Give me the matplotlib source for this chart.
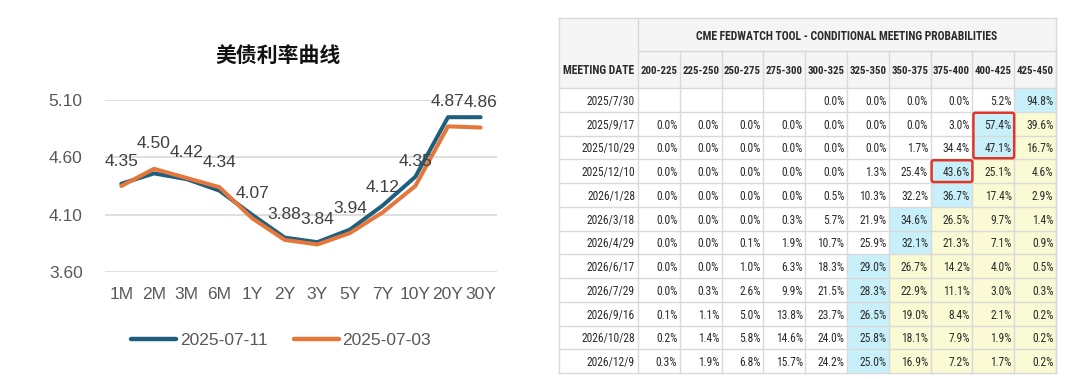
import matplotlib
matplotlib.use('Agg')
import matplotlib.pyplot as plt
from matplotlib import font_manager
from matplotlib.patches import Rectangle, FancyBboxPatch

plt.rcParams['font.family'] = ['Liberation Sans', 'DejaVu Sans']

# 美债利率曲线
tenors = ['1M', '2M', '3M', '6M', '1Y', '2Y', '3Y', '5Y', '7Y', '10Y', '20Y', '30Y']
y_0711 = [4.37, 4.46, 4.41, 4.31, 4.10, 3.90, 3.86, 3.97, 4.18, 4.43, 4.95, 4.95]
y_0703 = [4.35, 4.50, 4.42, 4.34, 4.07, 3.88, 3.84, 3.94, 4.12, 4.35, 4.87, 4.86]
yticks = [3.60, 4.10, 4.60, 5.10]

# CME FedWatch table
buckets = ['200-225', '225-250', '250-275', '275-300', '300-325',
           '325-350', '350-375', '375-400', '400-425', '425-450']
dates = ['2025/7/30', '2025/9/17', '2025/10/29', '2025/12/10', '2026/1/28', '2026/3/18',
         '2026/4/29', '2026/6/17', '2026/7/29', '2026/9/16', '2026/10/28', '2026/12/9']
probs = [
    [None, None, None, None, 0.0, 0.0, 0.0, 0.0, 5.2, 94.8],
    [0.0, 0.0, 0.0, 0.0, 0.0, 0.0, 0.0, 3.0, 57.4, 39.6],
    [0.0, 0.0, 0.0, 0.0, 0.0, 0.0, 1.7, 34.4, 47.1, 16.7],
    [0.0, 0.0, 0.0, 0.0, 0.0, 1.3, 25.4, 43.6, 25.1, 4.6],
    [0.0, 0.0, 0.0, 0.0, 0.5, 10.3, 32.2, 36.7, 17.4, 2.9],
    [0.0, 0.0, 0.0, 0.3, 5.7, 21.9, 34.6, 26.5, 9.7, 1.4],
    [0.0, 0.0, 0.1, 1.9, 10.7, 25.9, 32.1, 21.3, 7.1, 0.9],
    [0.0, 0.0, 1.0, 6.3, 18.3, 29.0, 26.7, 14.2, 4.0, 0.5],
    [0.0, 0.3, 2.6, 9.9, 21.5, 28.3, 22.9, 11.1, 3.0, 0.3],
    [0.1, 1.1, 5.0, 13.8, 23.7, 26.5, 19.0, 8.4, 2.1, 0.2],
    [0.2, 1.4, 5.8, 14.6, 24.0, 25.8, 18.1, 7.9, 1.9, 0.2],
    [0.3, 1.9, 6.8, 15.7, 24.2, 25.0, 16.9, 7.2, 1.7, 0.2],
]
# (row, col, nrows) of red boxes
marked = [(1, 8, 2), (3, 7, 1)]

blue = '#1F5F7E'
orange = '#E6773A'

# pick a narrow font for the table if one is installed
names = {f.name for f in font_manager.fontManager.ttflist}
tfont = {'family': ['Liberation Sans', 'DejaVu Sans']}
squeeze = 1.0
for cand in ['Liberation Sans Narrow', 'Arial Narrow', 'Roboto Condensed', 'Open Sans Condensed']:
    if cand in names:
        tfont = {'family': [cand, 'DejaVu Sans']}
        squeeze = 0.82
        break

fig = plt.figure(figsize=(10.8, 3.79), dpi=100)

# ---- left: yield curve ----
ax = fig.add_axes([105 / 1080, 1 - 272 / 379, 392 / 1080, 172 / 379])
x = list(range(len(tenors)))
ax.plot(x, y_0711, color=blue, lw=2.9, label='2025-07-11', solid_capstyle='round', zorder=3)
ax.plot(x, y_0703, color=orange, lw=2.9, label='2025-07-03', solid_capstyle='round', zorder=4)
for xi, v in zip(x, y_0703):
    ax.annotate(f'{v:.2f}', (xi, v), xytext=(0, 18), textcoords='offset points',
                ha='center', va='center', fontsize=12.5, color='#404040', zorder=5)
ax.set_xlim(-0.5, len(tenors) - 0.5)
ax.set_ylim(3.60, 5.10)
ax.set_yticks(yticks)
ax.set_yticklabels([f'{t:.2f}' for t in yticks])
ax.set_xticks(x)
ax.set_xticklabels(tenors)
ax.tick_params(length=0, labelsize=12.5, labelcolor='#595959')
ax.tick_params(axis='y', pad=16)
ax.tick_params(axis='x', pad=11)
ax.grid(axis='y', color='#d9d9d9', lw=1.2)
ax.set_axisbelow(True)
for s in ax.spines.values():
    s.set_visible(False)
ax.patch.set_alpha(0)

fig.text(278 / 1080, 1 - 55 / 379, '美债利率曲线', fontsize=15, fontweight='bold',
         family=['Noto Sans CJK SC', 'DejaVu Sans'], ha='center', va='center', color='#111111')
fig.legend(loc='center', bbox_to_anchor=(281 / 1080, 1 - 340 / 379), ncol=2, frameon=False,
           fontsize=12.5, labelcolor='#595959', handlelength=2.6, handletextpad=0.2,
           columnspacing=1.5)
for line in fig.legends[0].get_lines():
    line.set_linewidth(3.2)

# ---- right: FedWatch table (pixel coordinates) ----
tx = fig.add_axes([0, 0, 1, 1])
tx.set_xlim(0, 1080)
tx.set_ylim(379, 0)
tx.axis('off')

left, c0, right = 559, 638, 1056
cw = (right - c0) / len(buckets)
top, h1, h2 = 18, 51, 88
rh = (373 - h2) / len(dates)
grid = '#d9d9d9'
fs_val = 6.8 / squeeze
fs_head = 6.9 / squeeze
tcol = '#2b2b2b'

tx.add_patch(Rectangle((left, top), right - left, h2 - top, facecolor='#f5f5f5', edgecolor='none'))
for i, row in enumerate(probs):
    vals = [v if v is not None else -1 for v in row]
    m = vals.index(max(vals))
    y0 = h2 + i * rh
    for j, v in enumerate(row):
        x0 = c0 + j * cw
        if j == m:
            fc = '#c8f0fa'
        elif j > m:
            fc = '#fafad4'
        else:
            fc = None
        if fc:
            tx.add_patch(Rectangle((x0, y0), cw, rh, facecolor=fc, edgecolor='none'))
        if v is not None:
            tx.text(x0 + cw - 2.5, y0 + rh / 2, f'{v:.1f}%', ha='right', va='center_baseline',
                    fontsize=fs_val, color=tcol, **tfont)
    tx.text(c0 - 3, y0 + rh / 2, dates[i], ha='right', va='center_baseline',
            fontsize=fs_val, color=tcol, **tfont)

# grid lines
for yy in [top, h1, h2] + [h2 + (i + 1) * rh for i in range(len(dates))]:
    xs = c0 if yy == h1 else left
    tx.plot([xs, right], [yy, yy], color=grid, lw=1)
tx.plot([left, left], [top, 373], color=grid, lw=1)
tx.plot([c0, c0], [top, 373], color=grid, lw=1)
for j in range(1, len(buckets) + 1):
    tx.plot([c0 + j * cw] * 2, [h1, 373], color=grid, lw=1)
tx.plot([right, right], [top, 373], color=grid, lw=1)

tx.text((c0 + right) / 2, (top + h1) / 2, 'CME FEDWATCH TOOL - CONDITIONAL MEETING PROBABILITIES',
        ha='center', va='center_baseline', fontsize=fs_head, fontweight='bold', color=tcol, **tfont)
tx.text((left + c0) / 2, (h1 + h2) / 2, 'MEETING DATE', ha='center', va='center_baseline',
        fontsize=fs_head, fontweight='bold', color=tcol, **tfont)
for j, b in enumerate(buckets):
    tx.text(c0 + j * cw + cw / 2, (h1 + h2) / 2, b, ha='center', va='center_baseline',
            fontsize=fs_head * 0.93, fontweight='bold', color=tcol, **tfont)

for r, c, n in marked:
    tx.add_patch(FancyBboxPatch((c0 + c * cw + 1, h2 + r * rh + 1), cw - 1, n * rh - 2,
                                boxstyle='round,pad=0,rounding_size=2', facecolor='none',
                                edgecolor='#e0362a', lw=1.8, zorder=6))

fig.savefig('out.png', dpi=100)
